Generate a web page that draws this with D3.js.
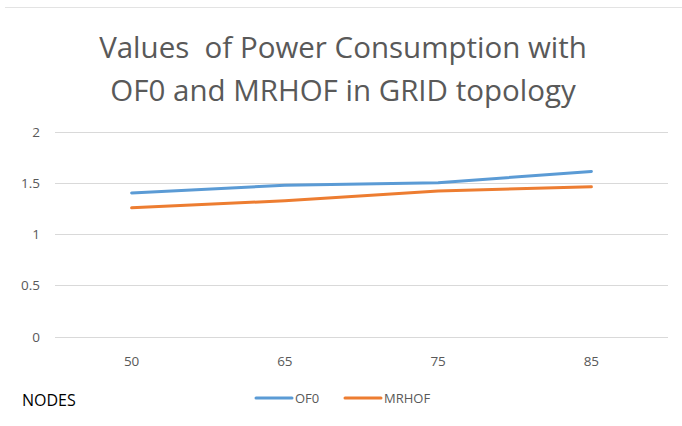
<!DOCTYPE html>
<html>
<head>
<meta charset="utf-8">
<script src="https://cdn.jsdelivr.net/npm/d3@7"></script>
<style>
  body { margin: 0; background: #fff; }
  text { font-family: "Open Sans", "Noto Sans", sans-serif; }
</style>
</head>
<body>
<svg width="682" height="426"></svg>
<script>
const nodes = ['50', '65', '75', '85'];
const of0 = [1.40, 1.475, 1.50, 1.61];
const mrhof = [1.255, 1.325, 1.42, 1.46];
const yTicks = [0, 0.5, 1, 1.5, 2];

const series = [
    { name: 'OF0', values: of0, color: '#5B9BD5' },
    { name: 'MRHOF', values: mrhof, color: '#ED7D31' }
];

const svg = d3.select("svg");

// faint frame line at top
svg.append("line")
    .attr("x1", 5).attr("x2", 682)
    .attr("y1", 7.5).attr("y2", 7.5)
    .attr("stroke", "#e3e3e3");

const titleLines = ['Values  of Power Consumption with', 'OF0 and MRHOF in GRID topology'];
svg.selectAll(".title")
    .data(titleLines)
    .enter().append("text")
    .attr("class", "title")
    .attr("x", 343)
    .attr("y", (d, i) => 58 + i * 43)
    .attr("text-anchor", "middle")
    .attr("fill", "#595959")
    .style("font-size", "29.5px")
    .style("white-space", "pre")
    .text(d => d);

const xScale = d3.scaleBand()
    .domain(nodes)
    .range([55, 668]);

const yScale = d3.scaleLinear()
    .domain([0, 2])
    .range([336.5, 131.5]);

const g = svg.append("g");

g.selectAll(".grid")
    .data(yTicks)
    .enter().append("line")
    .attr("class", "grid")
    .attr("x1", 55).attr("x2", 668)
    .attr("y1", d => Math.round(yScale(d)) + 0.5)
    .attr("y2", d => Math.round(yScale(d)) + 0.5)
    .attr("stroke", "#d9d9d9");

g.selectAll(".ylab")
    .data(yTicks)
    .enter().append("text")
    .attr("class", "ylab")
    .attr("x", 40)
    .attr("y", d => yScale(d) + 5)
    .attr("text-anchor", "end")
    .attr("fill", "#595959")
    .style("font-size", "13.5px")
    .text(d => d);

g.selectAll(".xlab")
    .data(nodes)
    .enter().append("text")
    .attr("class", "xlab")
    .attr("x", d => xScale(d) + xScale.bandwidth() / 2)
    .attr("y", 366)
    .attr("text-anchor", "middle")
    .attr("fill", "#595959")
    .style("font-size", "13.5px")
    .text(d => d);

const line = d3.line()
    .x((d, i) => xScale(nodes[i]) + xScale.bandwidth() / 2)
    .y(d => yScale(d));

g.selectAll(".series")
    .data(series)
    .enter().append("path")
    .attr("class", "series")
    .attr("d", d => line(d.values))
    .attr("fill", "none")
    .attr("stroke", d => d.color)
    .attr("stroke-width", 3)
    .attr("stroke-linecap", "round")
    .attr("stroke-linejoin", "round");

// legend
const legendX = [256, 345];
const legend = svg.selectAll(".legend")
    .data(series)
    .enter().append("g")
    .attr("class", "legend")
    .attr("transform", (d, i) => `translate(${legendX[i]},398)`);

legend.append("line")
    .attr("x1", 0).attr("x2", 36)
    .attr("stroke", d => d.color)
    .attr("stroke-width", 3)
    .attr("stroke-linecap", "round");

legend.append("text")
    .attr("x", 39)
    .attr("y", 5)
    .attr("fill", "#595959")
    .style("font-size", "13px")
    .text(d => d.name);

svg.append("text")
    .attr("x", 22)
    .attr("y", 406)
    .attr("fill", "#000")
    .style("font-size", "16px")
    .text("NODES");
</script>
</body>
</html>
